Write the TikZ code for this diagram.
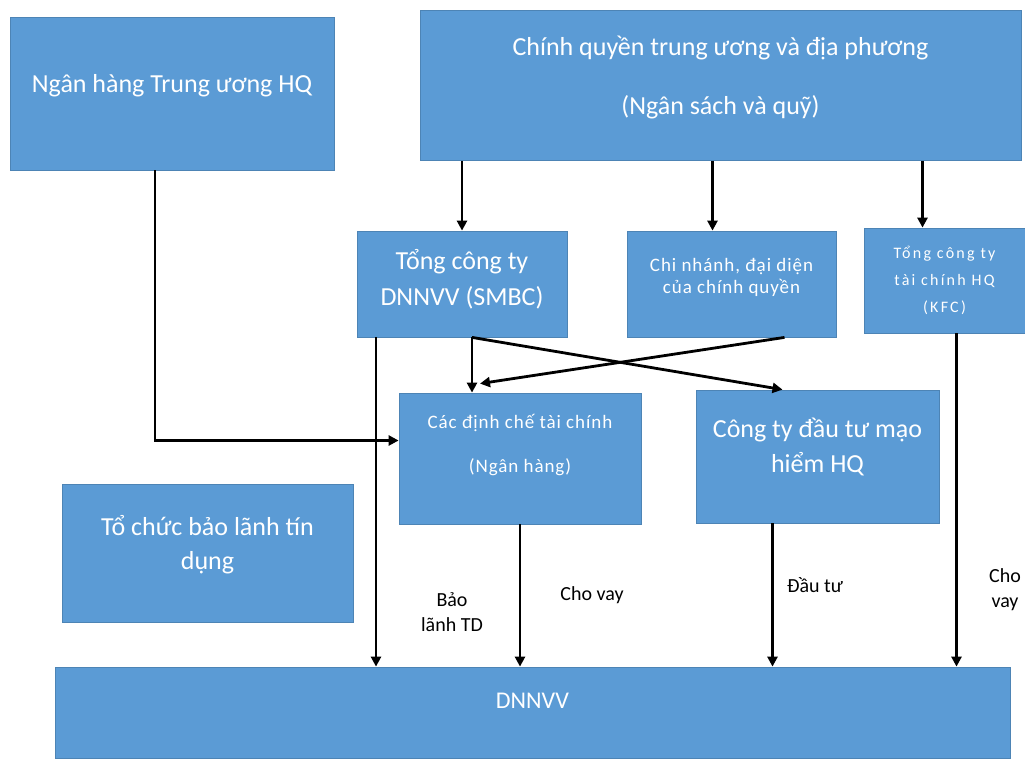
\documentclass[tikz,border=0pt]{standalone}
\usepackage{fontspec}
\setmainfont{Carlito}
\usetikzlibrary{arrows.meta}
\definecolor{boxblue}{HTML}{5B9BD5}
\tikzset{
  box/.style={draw=boxblue!85!black, line width=0.8pt, fill=boxblue, text=white, align=center, inner sep=0pt, font=\fontsize{26}{31}\selectfont},
  smallbox/.style={box, font=\fontsize{19}{22}\selectfont\addfontfeature{LetterSpace=5}},
  arr/.style={line width=2.8pt, -{Triangle[length=10pt,width=10pt]}},
  lbl/.style={align=center, font=\fontsize{20}{25}\selectfont}
}

\begin{document}
\begin{tikzpicture}[x=1pt,y=-1pt]
			%%%%% START %%%%%
			\useasboundingbox[fill=white] (0,0) rectangle (1025,758);
			
			\node[box, minimum width=324pt, minimum height=153pt, text depth=20pt] (bank) at (172, 93.5) {Ngân hàng Trung ương HQ};
			\node[box, minimum width=601pt, minimum height=150pt, text depth=20pt] (gov) at (720.5, 85.5) {Chính quyền trung ương và địa phương\\[28pt](Ngân sách và quỹ)};
			
			\node[box, minimum width=210pt, minimum height=106pt, text depth=14pt] (smbc) at (462, 284) {Tổng công ty\\[5pt]DNNVV (SMBC)};
			\node[smallbox, minimum width=209pt, minimum height=106pt, text depth=16pt] (cn) at (731.5, 284) {Chi nhánh, đại diện\\của chính quyền};
			\node[smallbox, minimum width=161pt, minimum height=105pt, font=\fontsize{16}{27}\selectfont\addfontfeature{LetterSpace=14}] (kfc) at (944.5, 280.5) {Tổng công ty\\tài chính HQ\\(KFC)};
			
			\node[smallbox, minimum width=242pt, minimum height=131pt, text depth=30pt] (fin) at (520, 458.5) {Các định chế tài chính\\[22pt](Ngân hàng)};
			\node[box, minimum width=243pt, minimum height=133pt, text depth=22pt] (vc) at (817.5, 456.5) {Công ty đầu tư mạo\\[4pt]hiểm HQ};
			\node[box, minimum width=291pt, minimum height=138pt, text depth=22pt] (bl) at (207.5, 553) {Tổ chức bảo lãnh tín\\[3pt]dụng};
			
			\node[box, minimum width=955pt, minimum height=91pt, text depth=24pt, font=\fontsize{24}{29}\selectfont] (dn) at (532.5, 712.5) {DNNVV};
			
			%%%%% ARROWS %%%%%
			\coordinate (bankout) at ([xshift=-17pt]bank.south);
			\coordinate (finin) at ([yshift=18pt]fin.west);
			\coordinate (finin2) at ([xshift=-40pt,yshift=9pt]fin.north);
			\coordinate (smbcL) at ([xshift=-86pt]smbc.south);
			\coordinate (smbcR) at ([xshift=10pt]smbc.south);
			\coordinate (cnin) at ([xshift=-19pt]cn.north);
			\coordinate (cnout) at ([xshift=53pt]cn.south);
			\coordinate (kfcin) at ([xshift=-22pt]kfc.north);
			\coordinate (kfcout) at ([xshift=12pt]kfc.south);
			\coordinate (vcin) at ([xshift=-35pt]vc.north);
			\coordinate (vcout) at ([xshift=-45pt]vc.south);
			
			\draw[arr] (smbc.north |- gov.south) -- (smbc.north);
			\draw[arr] (cnin |- gov.south) -- (cnin);
			\draw[arr] (kfcin |- gov.south) -- (kfcin);
			
			\draw[arr] (bankout) |- (finin);
			\draw[arr] (smbcR) -- (smbcR |- fin.north);
			\draw[arr] (smbcR) -- (vcin);
			\draw[arr] (cnout) -- (finin2);
			
			\draw[arr] (smbcL) -- (smbcL |- dn.north);
			\draw[arr] (fin.south) -- (fin.south |- dn.north);
			\draw[arr] (vcout) -- (vcout |- dn.north);
			\draw[arr] (kfcout) -- (kfcout |- dn.north);
			
			\node[lbl] (baolanh) at (452, 612) {Bảo\\lãnh TD};
			\node[lbl] (chovay) at (592, 595) {Cho vay};
			\node[lbl] (dautu) at (815, 585) {Đầu tư};
			\node[lbl] (chovaykfc) at (1005, 590) {Cho\\vay};
			
			%%%%% END %%%%%
\end{tikzpicture}
\end{document}
